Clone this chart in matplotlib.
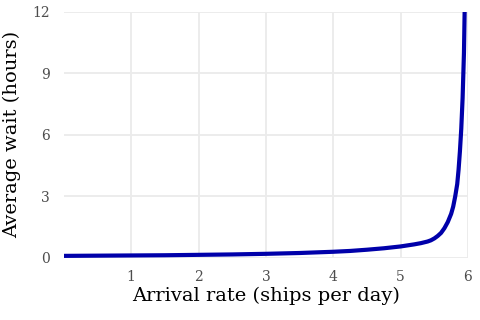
import matplotlib
matplotlib.use("Agg")
import matplotlib.pyplot as plt

# arrival rate (ships per day) vs average wait (hours)
arrival_rate = [0, 0.5, 1, 1.5, 2, 2.5, 3, 3.5, 4, 4.25, 4.5, 4.75, 5, 5.1, 5.2,
                5.3, 5.4, 5.45, 5.5, 5.55, 5.6, 5.65, 5.7, 5.75, 5.78, 5.81,
                5.84, 5.86, 5.88, 5.9, 5.92, 5.94, 5.95, 5.96]
avg_wait = [0.10, 0.11, 0.12, 0.13, 0.15, 0.17, 0.20, 0.24, 0.30, 0.34, 0.40,
            0.47, 0.56, 0.61, 0.66, 0.72, 0.80, 0.86, 0.95, 1.07, 1.22, 1.45,
            1.75, 2.15, 2.50, 3.00, 3.60, 4.30, 5.20, 6.30, 7.80, 10.0, 12.0,
            15.0]
x_ticks = [1, 2, 3, 4, 5, 6]
y_ticks = [0, 3, 6, 9, 12]

plt.rcParams['font.family'] = ['DejaVu Serif']

fig = plt.figure(figsize=(4.8, 3.2), dpi=100)
ax = fig.add_axes([0.133, 0.194, 0.842, 0.769])

ax.plot(arrival_rate, avg_wait, color='#0000AA', lw=3,
        solid_capstyle='butt', solid_joinstyle='round', zorder=3)

ax.set_xlim(0, 6)
ax.set_ylim(0, 12)
ax.set_xticks(x_ticks)
ax.set_yticks(y_ticks)
ax.grid(True, color='#EBEBEB', lw=1.3)
ax.set_axisbelow(True)
for s in ax.spines.values():
    s.set_visible(False)
ax.tick_params(length=0, labelsize=10, labelcolor='#4D4D4D')
ax.tick_params(axis='y', pad=10)
ax.tick_params(axis='x', pad=9)

ax.set_xlabel('Arrival rate (ships per day)', fontsize=14, labelpad=2)
ax.set_ylabel('Average wait (hours)', fontsize=14, labelpad=8)

fig.savefig('out.png', dpi=100)
